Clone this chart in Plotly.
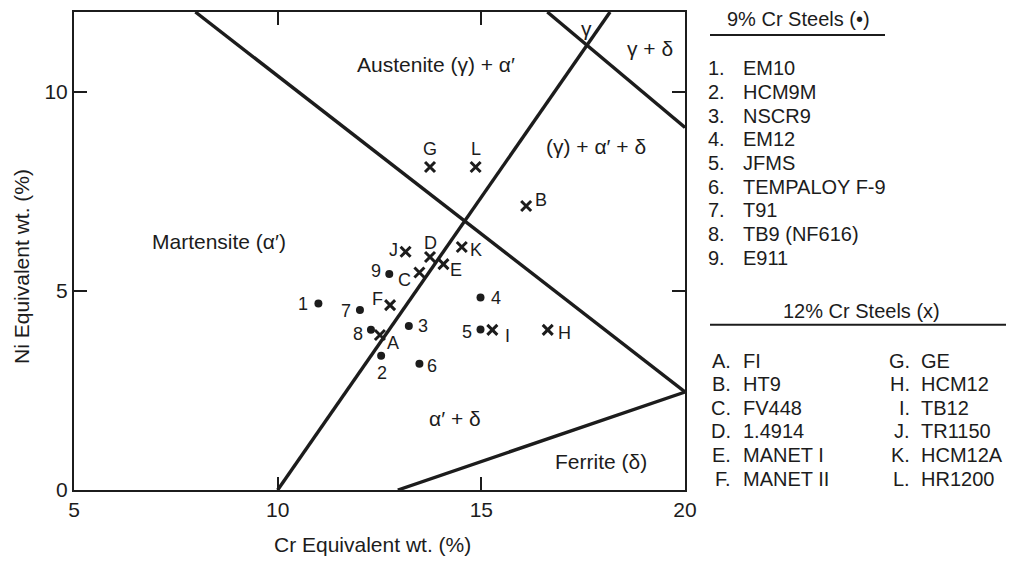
import plotly.graph_objects as go

# ---- data ----
cr9_labels = ["1", "2", "3", "4", "5", "6", "7", "8", "9"]
cr9_x = [11.0, 12.54, 13.22, 14.98, 14.98, 13.48, 12.02, 12.29, 12.74]
cr9_y = [4.68, 3.37, 4.12, 4.83, 4.03, 3.17, 4.52, 4.02, 5.42]
cr9_names = ["EM10", "HCM9M", "NSCR9", "EM12", "JFMS", "TEMPALOY F-9", "T91", "TB9 (NF616)", "E911"]

cr12_labels = ["A", "B", "C", "D", "E", "F", "G", "H", "I", "J", "K", "L"]
cr12_x = [12.51, 16.10, 13.48, 13.74, 14.07, 12.76, 13.74, 16.63, 15.27, 13.14, 14.52, 14.86]
cr12_y = [3.89, 7.13, 5.46, 5.85, 5.67, 4.64, 8.11, 4.02, 4.02, 5.98, 6.10, 8.11]
cr12_names = ["FI", "HT9", "FV448", "1.4914", "MANET I", "MANET II",
              "GE", "HCM12", "TB12", "TR1150", "HCM12A", "HR1200"]

# phase boundary lines (Cr eq, Ni eq end points)
line_martensite_x = [10.0, 18.16]
line_martensite_y = [0.0, 12.0]
line_austenite_x = [7.98, 20.0]
line_austenite_y = [12.0, 2.46]
line_ferrite_x = [12.95, 20.0]
line_ferrite_y = [0.0, 2.46]
line_gamma_x = [16.62, 20.0]
line_gamma_y = [12.0, 9.1]

region_texts = ["Austenite (γ) + α′", "γ", "γ + δ", "(γ) + α′ + δ", "Martensite (α′)", "α′ + δ", "Ferrite (δ)"]
region_x = [13.89, 17.59, 19.14, 17.81, 8.57, 14.35, 17.93]
region_y = [10.68, 11.58, 11.08, 8.63, 6.25, 1.8, 0.71]

x_ticks = [5, 10, 15, 20]
y_ticks = [0, 5, 10]

# ---- label offsets (pixels) ----
offsets = {
    "1": (-15, 0), "2": (1, -17), "3": (14, 0), "4": (15, 0), "5": (-14, -3),
    "6": (13, -2), "7": (-14, -1), "8": (-13, -4), "9": (-13, 3),
    "A": (13, -8), "B": (15, 6), "C": (-15, -7), "D": (0, 14), "E": (13, -6),
    "F": (-13, 6), "G": (0, 18), "H": (17, -3), "I": (15, -6), "J": (-12, 2),
    "K": (14, -3), "L": (0, 18),
}

FONT = "Liberation Sans, Arial, sans-serif"
INK = "#1c1c1c"
W, H = 1009, 561
L_, R_, T_, B_ = 74, 685, 10, 490

fig = go.Figure()

for lx, ly in [(line_martensite_x, line_martensite_y), (line_austenite_x, line_austenite_y),
               (line_ferrite_x, line_ferrite_y), (line_gamma_x, line_gamma_y)]:
    fig.add_trace(go.Scatter(x=lx, y=ly, mode="lines", line=dict(color=INK, width=3.4),
                             hoverinfo="skip", showlegend=False))

fig.add_trace(go.Scatter(x=cr9_x, y=cr9_y, mode="markers", text=cr9_names,
                         marker=dict(symbol="circle", size=8, color=INK), showlegend=False))
fig.add_trace(go.Scatter(x=cr12_x, y=cr12_y, mode="markers", text=cr12_names,
                         marker=dict(symbol="x-thin", size=10, color=INK,
                                     line=dict(width=3, color=INK)), showlegend=False))

ann = []
for lab, x, y in list(zip(cr9_labels, cr9_x, cr9_y)) + list(zip(cr12_labels, cr12_x, cr12_y)):
    dx, dy = offsets[lab]
    ann.append(dict(x=x, y=y, text=lab, showarrow=False, xshift=dx, yshift=dy,
                    xanchor="center", yanchor="middle",
                    font=dict(family=FONT, size=18, color=INK)))

for t, x, y in zip(region_texts, region_x, region_y):
    ann.append(dict(x=x, y=y, text=t, showarrow=False, xanchor="center", yanchor="middle",
                    font=dict(family=FONT, size=21, color=INK)))


def px(xp):
    return (xp - L_) / (R_ - L_)


def py(yp):
    return (B_ - yp) / (B_ - T_)


def note(xp, yp, text, font, xanchor="center", **kw):
    ann.append(dict(xref="paper", yref="paper", x=px(xp), y=py(yp), text=text,
                    showarrow=False, xanchor=xanchor, yanchor="middle", font=font, **kw))


# axis titles
AF = dict(family=FONT, size=21, color=INK)
note(372, 545, "Cr Equivalent wt. (%)", AF)
note(22, 266, "Ni Equivalent wt. (%)", AF, textangle=-90)

# right-hand key
KF = dict(family=FONT, size=20, color=INK)
note(798, 17, "9% Cr Steels (•)", KF)
for i, name in enumerate(cr9_names):
    yy = 66.7 + i * 23.75
    note(727, yy, f"{cr9_labels[i]}.", KF, xanchor="right")
    note(741, yy, name, KF, xanchor="left")

note(861, 310, "12% Cr Steels (x)", KF)
for i, (lab, name) in enumerate(zip(cr12_labels, cr12_names)):
    col = i // 6
    row = i % 6
    yy = 360 + row * 23.7
    note(733 if col == 0 else 912, yy, f"{lab}.", KF, xanchor="right")
    note(741 if col == 0 else 919, yy, name, KF, xanchor="left")

shapes = [
    dict(type="line", xref="paper", yref="paper", x0=px(710), x1=px(885), y0=py(33), y1=py(33),
         line=dict(color=INK, width=2)),
    dict(type="line", xref="paper", yref="paper", x0=px(710), x1=px(1006), y0=py(324), y1=py(324),
         line=dict(color=INK, width=2)),
]

fig.update_layout(
    width=W, height=H,
    margin=dict(l=L_, r=W - R_, t=T_, b=H - B_),
    plot_bgcolor="white", paper_bgcolor="white",
    annotations=ann, shapes=shapes,
    font=dict(family=FONT, color=INK),
    xaxis=dict(range=[5, 20], tickvals=x_ticks, ticks="inside", ticklen=13, tickwidth=1.5,
               tickcolor=INK, showline=True, linecolor=INK, linewidth=2, mirror="ticks",
               showgrid=False, zeroline=False, tickfont=dict(size=21, family=FONT, color=INK)),
    yaxis=dict(range=[0, 12], tickvals=y_ticks, ticks="inside", ticklen=13, tickwidth=1.5,
               tickcolor=INK, showline=True, linecolor=INK, linewidth=2, mirror="ticks",
               showgrid=False, zeroline=False, tickfont=dict(size=21, family=FONT, color=INK)),
)

fig.write_html("out.html")
